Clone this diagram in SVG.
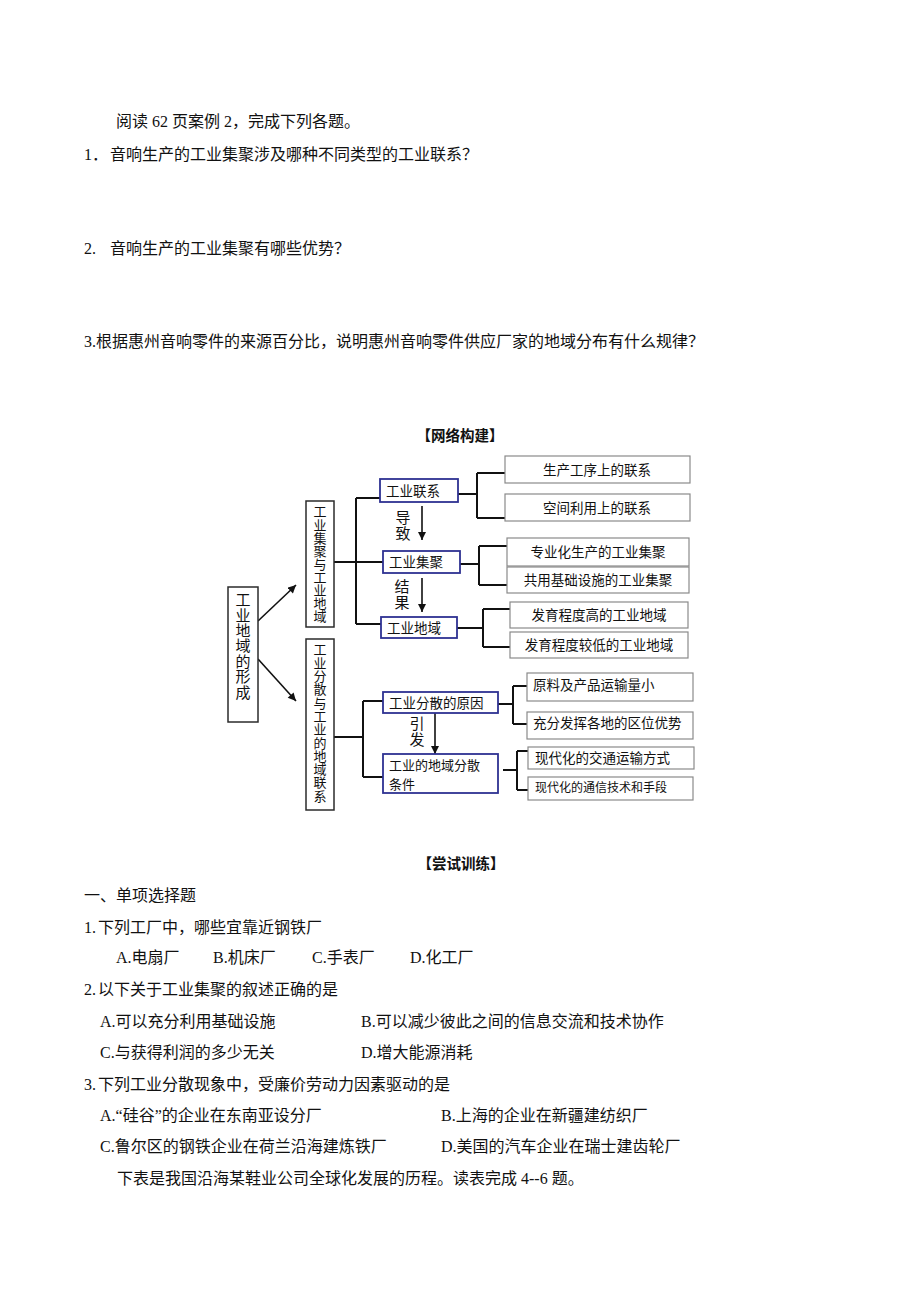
<svg xmlns="http://www.w3.org/2000/svg" width="920" height="1302" viewBox="0 0 920 1302">
<style>
.body{font-family:"Liberation Serif","Noto Sans CJK SC",serif;font-size:16px;fill:#111}
.hdr{font-family:"Noto Sans CJK SC",sans-serif;font-size:14.5px;font-weight:bold;fill:#111;text-anchor:middle}
.d{font-family:"Noto Sans CJK SC",sans-serif;font-size:13.5px;fill:#111}
.dc{font-family:"Noto Sans CJK SC",sans-serif;font-size:13.5px;fill:#111;text-anchor:middle}
.vt{font-family:"Noto Sans CJK SC",sans-serif;font-size:13px;fill:#111;writing-mode:vertical-rl}
.vl{font-family:"Noto Sans CJK SC",sans-serif;font-size:15px;fill:#111;writing-mode:vertical-rl;letter-spacing:0.4px}
.lbl{font-family:"Noto Sans CJK SC",sans-serif;font-size:15px;fill:#111;writing-mode:vertical-rl;letter-spacing:1px}
.vbox{fill:#fff;stroke:#2b2b2b;stroke-width:1.5}
.bbox{fill:#fff;stroke:#2e3192;stroke-width:1.8}
.gbox{fill:#fff;stroke:#8a8a8a;stroke-width:1.2}
.ln{fill:none;stroke:#111;stroke-width:2}
.ar{fill:none;stroke:#111;stroke-width:1.6}
</style>
<defs>
<marker id="ah" viewBox="0 0 10 10" refX="10" refY="5" markerWidth="9" markerHeight="8" markerUnits="userSpaceOnUse" orient="auto">
<path d="M0,0 L10,5 L0,10 z" fill="#111"/>
</marker>
</defs>
<rect width="920" height="1302" fill="#fff"/>

<g id="top-text">
<text class="body" x="116" y="127">阅读 62 页案例 2，完成下列各题。</text>
<text class="body" x="84" y="160">1．<tspan x="110">音响生产的工业集聚涉及哪种不同类型的工业联系？</tspan></text>
<text class="body" x="84" y="254">2.<tspan x="110">音响生产的工业集聚有哪些优势？</tspan></text>
<text class="body" x="84" y="347">3.<tspan x="96">根据惠州音响零件的来源百分比，说明惠州音响零件供应厂家的地域分布有什么规律？</tspan></text>
</g>

<text class="hdr" x="460" y="441">【网络构建】</text>

<g id="connectors">
<line class="ar" x1="258" y1="621" x2="296" y2="585" marker-end="url(#ah)"/>
<line class="ar" x1="258" y1="659" x2="296" y2="701" marker-end="url(#ah)"/>
<path class="ln" d="M334,562 H356 M356,498 V624 M356,498 H383 M356,562 H383 M356,624 H381"/>
<path class="ln" d="M334,737 H363 M363,701 V777 M363,701 H383 M363,777 H383"/>
<line class="ar" x1="422" y1="506" x2="422" y2="540" marker-end="url(#ah)"/>
<line class="ar" x1="422" y1="578" x2="422" y2="612" marker-end="url(#ah)"/>
<line class="ar" x1="435" y1="713" x2="435" y2="754" marker-end="url(#ah)"/>
<path class="ln" d="M458,494 H477 M477,473 V518 M477,473 H505 M477,518 H505"/>
<path class="ln" d="M460,564 H479 M479,546 V585 M479,546 H507 M479,585 H507"/>
<path class="ln" d="M457,628 H483 M483,609 V647 M483,609 H512 M483,647 H510"/>
<path class="ln" d="M498,704 H513 M513,686 V724 M513,686 H527 M513,724 H527"/>
<path class="ln" d="M503,770 H517 M517,751 V790 M517,751 H528 M517,790 H528"/>
<text class="lbl" x="403" y="509.5">导致</text>
<text class="lbl" x="402" y="579">结果</text>
<text class="lbl" x="417" y="716">引发</text>
</g>

<g id="n-root">
<rect class="vbox" x="228" y="587" width="30" height="135"/>
<text class="vl" x="243" y="592">工业地域的形成</text>
</g>

<g id="n-jiju">
<rect class="vbox" x="306" y="501" width="28" height="126"/>
<text class="vt" x="320" y="505" style="letter-spacing:0.1px">工业集聚与工业地域</text>
</g>

<g id="n-fensan">
<rect class="vbox" x="306" y="639" width="28" height="171"/>
<text class="vt" x="320" y="643" style="letter-spacing:0.3px">工业分散与工业的地域联系</text>
</g>

<g id="n-lianxi">
<rect class="bbox" x="380" y="479" width="78" height="23"/>
<text class="d" x="386" y="495.5">工业联系</text>
</g>
<g id="n-jijubox">
<rect class="bbox" x="383" y="551" width="77" height="22"/>
<text class="d" x="389" y="567">工业集聚</text>
</g>
<g id="n-diyu">
<rect class="bbox" x="381" y="617" width="76" height="21"/>
<text class="d" x="387" y="632.5">工业地域</text>
</g>
<g id="n-yuanyin">
<rect class="bbox" x="383" y="692" width="115" height="21"/>
<text class="d" x="389" y="707.5">工业分散的原因</text>
</g>
<g id="n-tiaojian">
<rect class="bbox" x="383" y="754" width="115" height="39"/>
<text class="d" style="font-size:13px"><tspan x="389" y="770">工业的地域分散</tspan><tspan x="389" y="788.5">条件</tspan></text>
</g>

<g id="n-r1">
<rect class="gbox" x="505" y="456" width="185" height="27"/>
<text class="dc" x="597" y="474.5">生产工序上的联系</text>
</g>
<g id="n-r2">
<rect class="gbox" x="505" y="494" width="185" height="27"/>
<text class="dc" x="597" y="512.5">空间利用上的联系</text>
</g>
<g id="n-r3">
<rect class="gbox" x="507" y="538" width="182" height="28"/>
<text class="dc" x="598" y="557">专业化生产的工业集聚</text>
</g>
<g id="n-r4">
<rect class="gbox" x="507" y="567" width="182" height="26"/>
<text class="dc" x="598" y="585">共用基础设施的工业集聚</text>
</g>
<g id="n-r5">
<rect class="gbox" x="510" y="602" width="178" height="26"/>
<text class="dc" x="599" y="620">发育程度高的工业地域</text>
</g>
<g id="n-r6">
<rect class="gbox" x="510" y="632" width="178" height="26"/>
<text class="dc" x="599" y="649.5">发育程度较低的工业地域</text>
</g>
<g id="n-r7">
<rect class="gbox" x="527" y="673" width="166" height="28"/>
<text class="d" x="533" y="690">原料及产品运输量小</text>
</g>
<g id="n-r8">
<rect class="gbox" x="527" y="712" width="166" height="27"/>
<text class="d" x="533" y="728">充分发挥各地的区位优势</text>
</g>
<g id="n-r9">
<rect class="gbox" x="528" y="747" width="166" height="22"/>
<text class="d" x="535" y="762.5">现代化的交通运输方式</text>
</g>
<g id="n-r10">
<rect class="gbox" x="528" y="777" width="165" height="23"/>
<text class="d" x="535" y="791.5" style="font-size:12px">现代化的通信技术和手段</text>
</g>

<text class="hdr" x="461" y="869">【尝试训练】</text>

<g id="bottom-text">
<text class="body" x="84" y="901">一、单项选择题</text>
<text class="body" x="84" y="933">1.<tspan x="98">下列工厂中，哪些宜靠近钢铁厂</tspan></text>
<text class="body" x="116" y="963">A.电扇厂</text>
<text class="body" x="213" y="963">B.机床厂</text>
<text class="body" x="312" y="963">C.手表厂</text>
<text class="body" x="410" y="963">D.化工厂</text>
<text class="body" x="84" y="995">2.<tspan x="98">以下关于工业集聚的叙述正确的是</tspan></text>
<text class="body" x="100" y="1027">A.可以充分利用基础设施</text>
<text class="body" x="361" y="1027">B.可以减少彼此之间的信息交流和技术协作</text>
<text class="body" x="100" y="1058">C.与获得利润的多少无关</text>
<text class="body" x="361" y="1058">D.增大能源消耗</text>
<text class="body" x="84" y="1090">3.<tspan x="98">下列工业分散现象中，受廉价劳动力因素驱动的是</tspan></text>
<text class="body" x="100" y="1121">A.“硅谷”的企业在东南亚设分厂</text>
<text class="body" x="441" y="1121">B.上海的企业在新疆建纺织厂</text>
<text class="body" x="100" y="1152">C.鲁尔区的钢铁企业在荷兰沿海建炼铁厂</text>
<text class="body" x="441" y="1152">D.美国的汽车企业在瑞士建齿轮厂</text>
<text class="body" x="117" y="1184">下表是我国沿海某鞋业公司全球化发展的历程。读表完成 4--6 题。</text>
</g>
</svg>
